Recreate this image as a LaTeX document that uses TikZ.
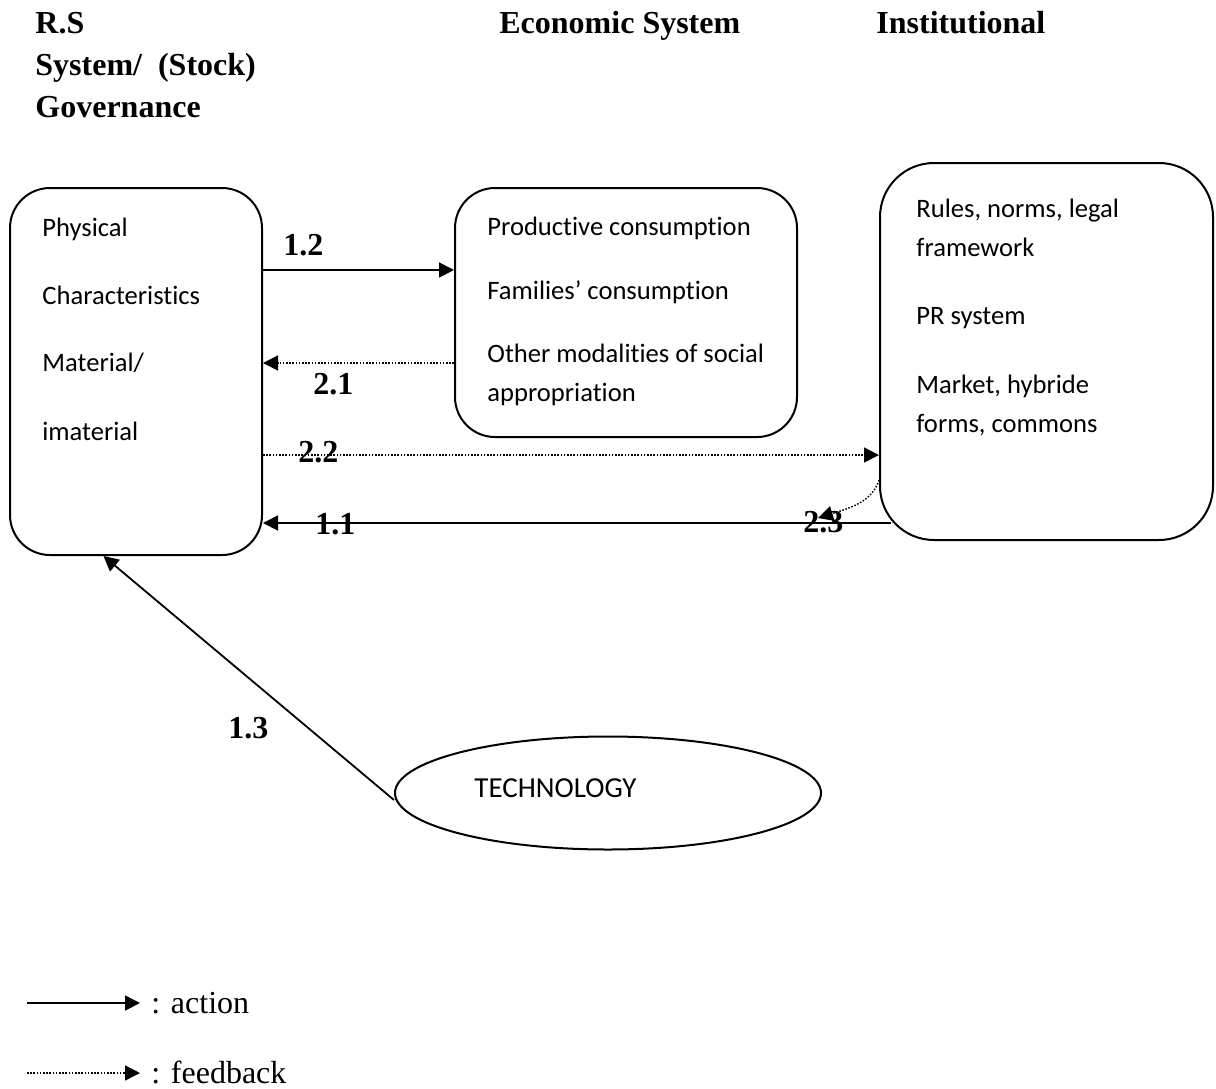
\documentclass[tikz,border=0pt]{standalone}
\usepackage{fontspec}
\setmainfont{Liberation Serif}
\newfontfamily\boxfont[Ligatures=NoCommon]{Carlito}
\usetikzlibrary{arrows.meta,shapes.geometric,calc}

\tikzset{
  block/.style={draw, line width=1pt, rounded corners=20pt, inner sep=0pt},
  boxtxt/.style={anchor=base west, inner sep=0pt, font=\boxfont\fontsize{13.3}{16}\selectfont},
  head/.style={anchor=base west, inner sep=0pt, font=\bfseries\fontsize{16}{19}\selectfont},
  legend/.style={anchor=base west, inner sep=0pt, font=\fontsize{16}{19}\selectfont},
  action/.style={line width=0.9pt, -{Triangle[length=7.5pt,width=7.5pt]}},
  feedback/.style={action, line width=0.7pt, dash pattern=on 0.8pt off 0.8pt}
}

\begin{document}
\begin{tikzpicture}[x=0.5pt, y=-0.5pt]
  \useasboundingbox (0,0) rectangle (1216,1088);
  % Define headings
  \node[head] (rs)   at (35,33)  {R.S};
  \node[head] (sys)  at (35,75)  {System/\ \ (Stock)};
  \node[head] (gov)  at (35,117) {Governance};
  \node[head] (eco)  at (499,33) {Economic System};
  \node[head] (inst) at (876,33) {Institutional};
  % Define boxes
  \node[block, minimum width=126pt, minimum height=183.5pt] (lbox) at (136,371.5) {};
  \node[block, minimum width=171pt, minimum height=124.5pt] (mbox) at (626,312.5) {};
  \node[block, rounded corners=27pt, minimum width=166.5pt, minimum height=188.5pt] (rbox) at (1046.5,351.5) {};
  \node[draw, ellipse, line width=1pt, minimum width=213pt, minimum height=56.5pt, inner sep=0pt] (tech) at (608,793) {};
  % Define box texts
  \foreach \t/\y [count=\i] in {Physical/236, Characteristics/304, {Material/}/371, imaterial/440}
    \node[boxtxt] (ltxt\i) at (42,\y) {\t};
  \foreach \t/\y [count=\i] in {Productive consumption/235, Families’ consumption/299,
      Other modalities of social/362, appropriation/401}
    \node[boxtxt] (mtxt\i) at (487,\y) {\t};
  \foreach \t/\y [count=\i] in {{Rules, norms, legal}/217, framework/256, PR system/324,
      {Market, hybride}/393, {forms, commons}/432}
    \node[boxtxt] (rtxt\i) at (916,\y) {\t};
  \node[boxtxt, font=\boxfont\fontsize{14.5}{16}\selectfont] (techtxt) at (474,797) {TECHNOLOGY};
  % Define edges
  \draw[action] (lbox.east |- 0,270) -- (mbox.west |- 0,270);
  \draw[feedback] (mbox.west |- 0,363) -- (lbox.east |- 0,363);
  \draw[feedback] (lbox.east |- 0,455) -- (rbox.west |- 0,455);
  \draw[action] ($(rbox.west |- 0,523)+(12,0)$) -- (lbox.east |- 0,523);
  \coordinate (c23) at (818,518);
  \draw[feedback] (rbox.west |- 0,480) .. controls (872,502) and (850,508) .. (c23);
  \draw[action] ([yshift=-3.5pt]tech.west) -- (lbox.-100);
  % Define edge labels
  \node[head] (l12) at (283,255) {1.2};
  \node[head] (l21) at (313,394) {2.1};
  \node[head] (l22) at (298,462) {2.2};
  \node[head] (l11) at (315,534) {1.1};
  \node[head] (l23) at (803,532) {2.3};
  \node[head] (l13) at (228,738) {1.3};
  % Define legend
  \coordinate (a0) at (27,1003);
  \coordinate (a1) at (140,1003);
  \coordinate (f0) at (27,1073);
  \coordinate (f1) at (140,1073);
  \draw[action] (a0) -- (a1);
  \draw[feedback] (f0) -- (f1);
  \node[legend] (act) at (151,1013) {: action};
  \node[legend] (fb)  at (151,1083) {: feedback};
\end{tikzpicture}
\end{document}
